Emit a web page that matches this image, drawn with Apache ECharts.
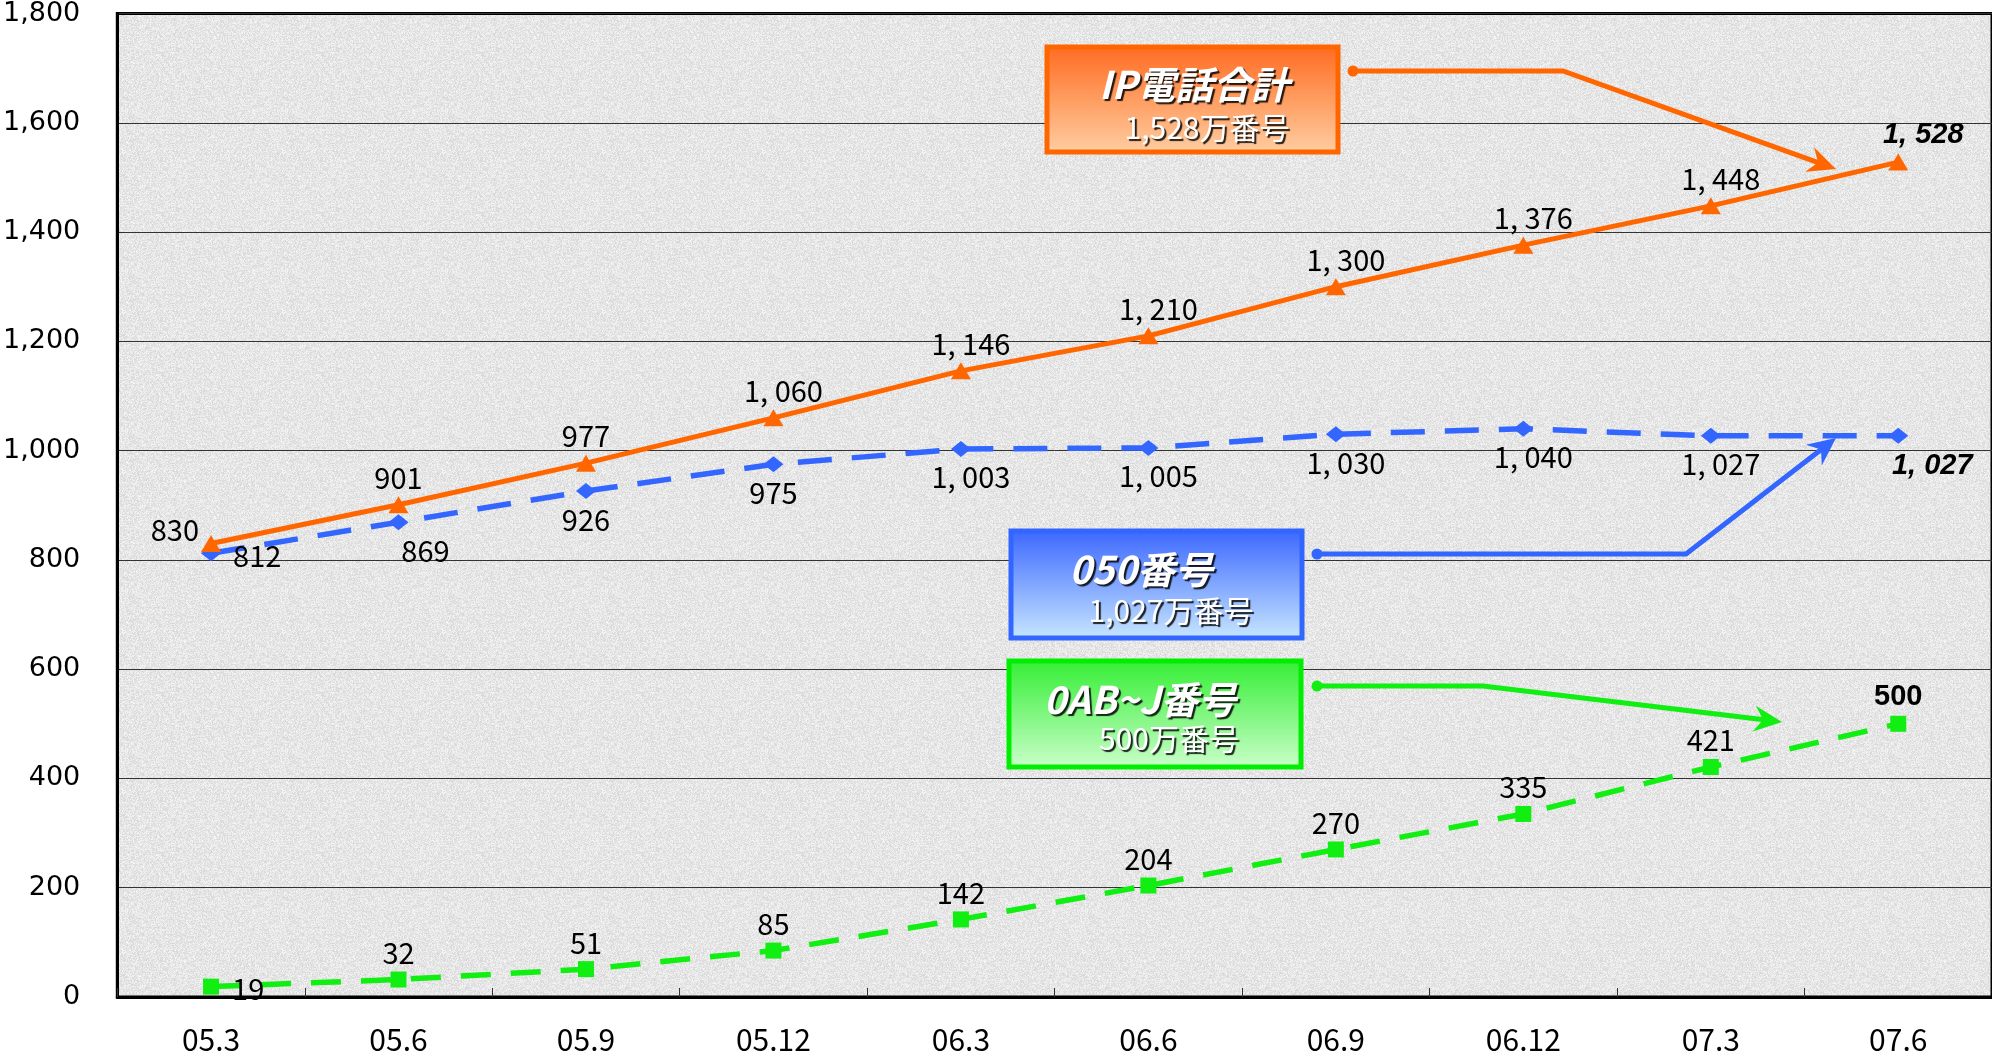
<!DOCTYPE html>
<html>
<head>
<meta charset="utf-8">
<script src="https://cdn.jsdelivr.net/npm/echarts@6/dist/echarts.min.js"></script>
<style>
html,body{margin:0;padding:0;background:#fff;}
#c{width:1992px;height:1060px;}
</style>
</head>
<body>
<div id="c"></div>
<script>
// ---- data ----
const categories = ['05.3','05.6','05.9','05.12','06.3','06.6','06.9','06.12','07.3','07.6'];
const ipTotal  = [830, 901, 977, 1060, 1146, 1210, 1300, 1376, 1448, 1528];
const num050   = [812, 869, 926, 975, 1003, 1005, 1030, 1040, 1027, 1027];
const numOABJ  = [19, 32, 51, 85, 142, 204, 270, 335, 421, 500];
const yMin = 0, yMax = 1800, yStep = 200;
const seriesNames = ['IP電話合計', '050番号', '0AB~J番号'];
const boxTitles = ['IP電話合計', '050番号', '0AB~J番号'];
const boxSubs = ['1,528万番号', '1,027万番号', '500万番号'];

const ORANGE = '#FF6600', BLUE = '#3366FF', GREEN = '#11EE11';
const LABEL_FONT = '"Noto Sans CJK JP", "Liberation Sans", sans-serif';

// decorative granite-like texture (deterministic hash, not data)
function makeTexture(){
  const cv = document.createElement('canvas');
  cv.width = 160; cv.height = 160;
  const ctx = cv.getContext('2d');
  const img = ctx.createImageData(160, 160);
  for (let y = 0; y < 160; y++){
    for (let x = 0; x < 160; x++){
      let h = (x * 374761393 + y * 668265263) | 0;
      h = Math.imul(h ^ (h >>> 13), 1274126177);
      h = (h ^ (h >>> 16)) >>> 0;
      const t = (h % 1000) / 1000;
      let g = 232 + Math.round((t - 0.5) * 30);
      if (t > 0.93) g -= 30;
      const i = (y * 160 + x) * 4;
      img.data[i] = g; img.data[i+1] = g; img.data[i+2] = g; img.data[i+3] = 255;
    }
  }
  ctx.putImageData(img, 0, 0);
  return cv;
}
const texture = makeTexture();

function fmt(v){
  if (v >= 1000){ const r = v % 1000; return Math.floor(v/1000) + ', ' + String(r).padStart(3,'0'); }
  return String(v);
}
const baseLabel = {show:true, color:'#000', fontSize:29, fontFamily:LABEL_FONT,
  formatter: p => fmt(p.value)};

function build(values, special){
  return values.map((v,i)=>{
    const lab = {offset:[v>=1000?10:0, 0]};
    if (special[i]) Object.assign(lab, special[i]);
    return {value:v, label:lab};
  });
}
const last = ipTotal.length - 1;
const BI = {fontWeight:'bold', fontStyle:'italic', fontFamily:'"Liberation Sans", sans-serif', fontSize:29};
const ipData = build(ipTotal, {
  0: {position:'left', distance:2, offset:[0,-14]},
  [last]: Object.assign({offset:[25,0]}, BI)
});
const d050 = build(num050, {
  0: {position:'right', distance:12, offset:[0,3]},
  1: {offset:[27,0]},
  [last]: Object.assign({offset:[34,2]}, BI)
});
const dOABJ = build(numOABJ, {
  0: {position:'right', distance:13, offset:[0,2]},
  [last]: {fontWeight:'bold', fontFamily:'"Liberation Sans", sans-serif', fontSize:29}
});

// ---- annotation helpers (pixel layout) ----
function arrowHead(tip, from, color){
  const ang = Math.atan2(tip[1]-from[1], tip[0]-from[0]);
  const L = 28, W = 13, N = 9;
  const c = Math.cos(ang), s = Math.sin(ang);
  const pt = (dx,dy)=>[tip[0] + dx*c - dy*s, tip[1] + dx*s + dy*c];
  return {type:'polygon', z:20, shape:{points:[tip, pt(-L, -W), pt(-L+N, 0), pt(-L, W)]},
    style:{fill:color}};
}
function connector(pts, color){
  const n = pts.length;
  return [
    {type:'polyline', z:20, shape:{points:pts.slice(0, n-1).concat([[
      pts[n-1][0] - (pts[n-1][0]-pts[n-2][0])*0.06, pts[n-1][1] - (pts[n-1][1]-pts[n-2][1])*0.06]])},
      style:{stroke:color, lineWidth:5, fill:null}},
    {type:'circle', z:20, shape:{cx:pts[0][0], cy:pts[0][1], r:5.5}, style:{fill:color}},
    arrowHead(pts[n-1], pts[n-2], color)
  ];
}
function box(x, y, w, h, border, top, bottom, title, sub, tx, ty, sx, sy){
  const sh = {textShadowColor:'rgba(0,0,0,0.85)', textShadowOffsetX:2, textShadowOffsetY:2, textShadowBlur:1};
  return [
    {type:'rect', z:20, shape:{x:x, y:y, width:w, height:h},
      style:{fill:{type:'linear', x:0, y:0, x2:0, y2:1, colorStops:[{offset:0,color:top},{offset:1,color:bottom}]},
      stroke:border, lineWidth:5}},
    {type:'text', z:21, style:Object.assign({text:title, x:tx, y:ty, fill:'#fff', textAlign:'center', textVerticalAlign:'middle',
      font:'italic bold 38px "Noto Sans CJK JP", sans-serif'}, sh)},
    {type:'text', z:21, style:Object.assign({text:sub, x:sx, y:sy, fill:'#fff', textAlign:'center', textVerticalAlign:'middle',
      font:'30px "Noto Sans CJK JP", sans-serif'}, sh)}
  ];
}

const graphics = [].concat(
  box(1047, 47, 291, 105, ORANGE, '#FF6A1F', '#FFCFA3', boxTitles[0], boxSubs[0], 1194, 85, 1207, 128),
  box(1011, 531, 291, 107, BLUE, '#3A66FF', '#C9E8FF', boxTitles[1], boxSubs[1], 1141, 570, 1171, 611),
  box(1009, 661, 292, 106, '#00EE00', '#33EE33', '#CCFFCC', boxTitles[2], boxSubs[2], 1140, 700, 1169, 739),
  connector([[1353,71],[1563,71],[1836,169]], ORANGE),
  connector([[1317,554],[1686,554],[1836,438]], BLUE),
  connector([[1317,686],[1483,686],[1782,722]], GREEN)
);

const chart = echarts.init(document.getElementById('c'), null, {renderer:'canvas'});
chart.setOption({
  animation:false,
  backgroundColor:'#ffffff',
  grid:{left:117, right:-4, top:10, bottom:63, show:true,
    backgroundColor:{image:texture, repeat:'repeat'},
    borderColor:'#000', borderWidth:3},
  xAxis:{type:'category', data:categories, boundaryGap:true,
    axisLine:{show:true, lineStyle:{color:'#000', width:3}},
    axisTick:{show:true, inside:true, length:9, lineStyle:{color:'#333', width:1}},
    axisLabel:{color:'#000', fontSize:30, fontFamily:LABEL_FONT, margin:28},
    splitLine:{show:false}},
  yAxis:{type:'value', min:yMin, max:yMax, interval:yStep,
    axisLine:{show:true, lineStyle:{color:'#000', width:3}},
    axisTick:{show:false},
    axisLabel:{color:'#000', fontSize:27, fontFamily:'"DejaVu Sans", sans-serif', margin:37,
      formatter: v => v.toLocaleString('en-US')},
    splitLine:{show:true, lineStyle:{color:'#333', width:1}}},
  series:[
    {name:seriesNames[0], type:'line', data:ipData, symbol:'triangle', symbolSize:[20,17], z:5,
      lineStyle:{color:ORANGE, width:5}, itemStyle:{color:ORANGE},
      label:Object.assign({}, baseLabel, {position:'top', distance:4})},
    {name:seriesNames[1], type:'line', data:d050, symbol:'diamond', symbolSize:[20,16], z:4,
      lineStyle:{color:BLUE, width:5.5, type:[34,20]}, itemStyle:{color:BLUE},
      label:Object.assign({}, baseLabel, {position:'bottom', distance:6})},
    {name:seriesNames[2], type:'line', data:dOABJ, symbol:'rect', symbolSize:16, z:3,
      lineStyle:{color:GREEN, width:5.5, type:[30,20]}, itemStyle:{color:GREEN},
      label:Object.assign({}, baseLabel, {position:'top', distance:4})}
  ],
  graphic: graphics
});
</script>
</body>
</html>
